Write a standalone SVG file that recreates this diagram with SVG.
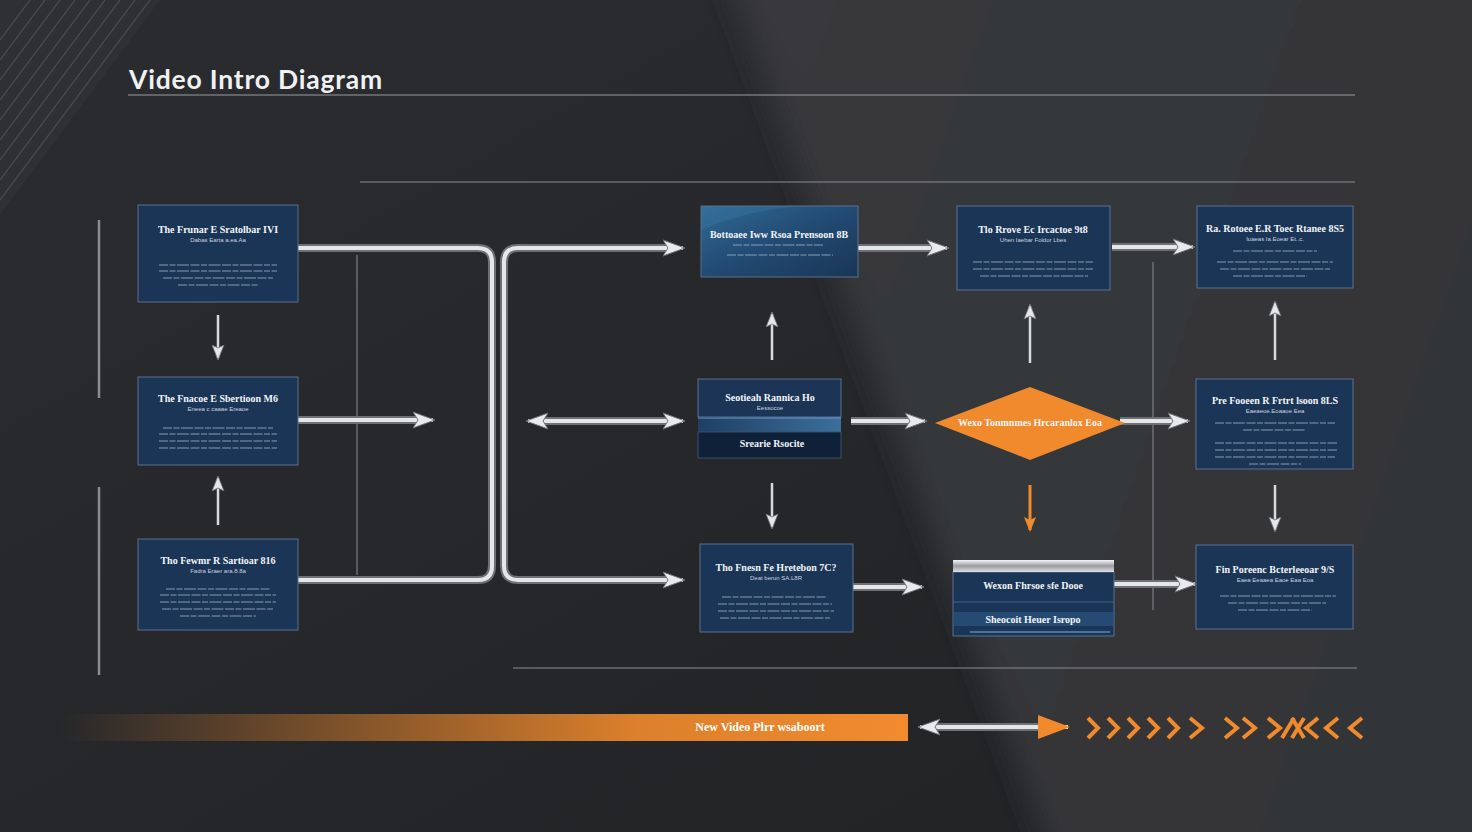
<svg xmlns="http://www.w3.org/2000/svg" width="1472" height="832" viewBox="0 0 1472 832">
<defs>
<style>
.node{fill:#1b3556;stroke:#5a7090;stroke-width:1}
.ttl{font-family:"Liberation Serif","DejaVu Serif",serif;font-weight:bold;font-size:10px;fill:#f2f4f8;text-anchor:middle}
.sub{font-family:"Liberation Sans","DejaVu Sans",sans-serif;font-size:6px;fill:#c9d3e0;text-anchor:middle}
.body{stroke:#9fb0c8;stroke-width:1.3;stroke-dasharray:9 1.5 6 1.5 12 1.5;opacity:.55}
.tube{fill:none;stroke:#6d7074;stroke-width:8;stroke-linecap:butt}
.tubehi{fill:none;stroke:#e4e6e8;stroke-width:4}
.thin{fill:none;stroke:#d8dadc;stroke-width:2.5}
.guide{stroke:#8a8d91;stroke-width:1;fill:none}
.chev{fill:none;stroke:#f08a2c;stroke-width:4;stroke-linejoin:miter}
</style>
<linearGradient id="bg" x1="0" y1="0" x2="1" y2="1">
<stop offset="0" stop-color="#2a2c2f"/><stop offset="1" stop-color="#202224"/>
</linearGradient>
<linearGradient id="bgR" x1="0" y1="0" x2="1" y2="0.4">
<stop offset="0" stop-color="#38393c"/><stop offset="1" stop-color="#333538"/>
</linearGradient>
<filter id="soft" x="-10%" y="-10%" width="120%" height="120%"><feGaussianBlur stdDeviation="14"/></filter>
<linearGradient id="bar" x1="60" y1="0" x2="908" y2="0" gradientUnits="userSpaceOnUse">
<stop offset="0" stop-color="#f08a2c" stop-opacity="0"/><stop offset="0.68" stop-color="#f08a2c" stop-opacity="0.9"/><stop offset="1" stop-color="#f28b2e"/>
</linearGradient>
<linearGradient id="b1g" x1="0" y1="0" x2="1" y2="1">
<stop offset="0" stop-color="#2f6a94"/><stop offset="0.5" stop-color="#224a72"/><stop offset="1" stop-color="#1a3556"/>
</linearGradient>
<linearGradient id="band" x1="0" y1="0" x2="1" y2="0">
<stop offset="0" stop-color="#1f3f64"/><stop offset="1" stop-color="#3a6f9c"/>
</linearGradient>
<linearGradient id="metal" x1="0" y1="0" x2="0" y2="1">
<stop offset="0" stop-color="#f4f5f6"/><stop offset="0.5" stop-color="#9a9da1"/><stop offset="1" stop-color="#dfe1e3"/>
</linearGradient>
<marker id="ah" markerUnits="userSpaceOnUse" markerWidth="26" markerHeight="20" refX="20" refY="10" orient="auto-start-reverse">
<path d="M0,2 L22,10 L0,18 L5,10 Z" fill="#e8eaec" stroke="#6d7074" stroke-width="1"/>
</marker>
<marker id="ahs" markerUnits="userSpaceOnUse" markerWidth="18" markerHeight="16" refX="13" refY="8" orient="auto-start-reverse">
<path d="M0,2 L15,8 L0,14 L3,8 Z" fill="#e4e6e8" stroke="#6d7074" stroke-width="0.8"/>
</marker>
<marker id="aho" markerUnits="userSpaceOnUse" markerWidth="18" markerHeight="16" refX="13" refY="8" orient="auto">
<path d="M0,2 L15,8 L0,14 L3,8 Z" fill="#f08a2c"/>
</marker>
<marker id="ahbig" markerUnits="userSpaceOnUse" markerWidth="34" markerHeight="28" refX="30" refY="14" orient="auto">
<path d="M0,2 L32,14 L0,26 Z" fill="#f08a2c"/>
</marker>
</defs>

<!-- background -->
<rect x="0" y="0" width="1472" height="832" fill="url(#bg)"/>
<polygon points="720,-40 1520,-40 1520,880 1060,880" fill="url(#bgR)" filter="url(#soft)"/>
<polygon points="0,0 160,0 0,215" fill="#303236" opacity="0.8"/>
<g stroke="#5e6268" stroke-width="1.2" opacity="0.6">
<line x1="0" y1="40" x2="30" y2="0"/><line x1="0" y1="60" x2="45" y2="0"/><line x1="0" y1="80" x2="60" y2="0"/>
<line x1="0" y1="100" x2="75" y2="0"/><line x1="0" y1="120" x2="90" y2="0"/><line x1="0" y1="140" x2="105" y2="0"/>
<line x1="0" y1="160" x2="120" y2="0"/><line x1="0" y1="180" x2="135" y2="0"/><line x1="0" y1="200" x2="150" y2="0"/>
</g>

<!-- title -->
<text x="129" y="89" font-family="Lato,'Open Sans',sans-serif" font-size="26.5" font-weight="bold" letter-spacing="0.8" fill="#f0f1f2">Video Intro Diagram</text>
<line x1="128" y1="95" x2="1355" y2="95" stroke="#9a9da1" stroke-width="1"/>
<line x1="360" y1="182" x2="1355" y2="182" stroke="#8a8d91" stroke-width="1"/>
<line x1="513" y1="668" x2="1357" y2="668" stroke="#8a8d91" stroke-width="1"/>
<line x1="99" y1="220" x2="99" y2="398" stroke="#8a8d91" stroke-width="2.5"/>
<line x1="99" y1="487" x2="99" y2="675" stroke="#8a8d91" stroke-width="2.5"/>

<!-- connectors -->
<g id="connectors">
<line class="guide" x1="357" y1="255" x2="357" y2="575"/>
<line class="guide" x1="1153" y1="262" x2="1153" y2="610"/>
<path class="tube" d="M298,248 H478 Q492,248 492,262 V566 Q492,580 478,580 H298"/>
<path class="tubehi" d="M298,248 H478 Q492,248 492,262 V566 Q492,580 478,580 H298"/>
<path class="tube" d="M504,420 V262 Q504,248 518,248 H670"/>
<path class="tubehi" marker-end="url(#ah)" d="M504,420 V262 Q504,248 518,248 H683"/>
<path class="tube" d="M504,410 V566 Q504,580 518,580 H670"/>
<path class="tubehi" marker-end="url(#ah)" d="M504,410 V566 Q504,580 518,580 H683"/>
<path class="tube" d="M298,420 H420"/><path class="tubehi" marker-end="url(#ah)" d="M298,420 H433"/>
<path class="tube" d="M540,421 H670"/><path class="tubehi" marker-start="url(#ah)" marker-end="url(#ah)" d="M528,421 H683"/>
<path class="tube" d="M858,248 H935"/><path class="tubehi" marker-end="url(#ah)" d="M858,248 H947"/>
<path class="tube" d="M1112,247 H1180"/><path class="tubehi" marker-end="url(#ah)" d="M1112,247 H1193"/>
<path class="tube" d="M851,421 H912"/><path class="tubehi" marker-end="url(#ah)" d="M851,421 H925"/>
<path class="tube" d="M1120,421 H1176"/><path class="tubehi" marker-end="url(#ah)" d="M1120,421 H1188"/>
<path class="tube" d="M853,587 H910"/><path class="tubehi" marker-end="url(#ah)" d="M853,587 H922"/>
<path class="tube" d="M1114,584 H1182"/><path class="tubehi" marker-end="url(#ah)" d="M1114,584 H1195"/>
<path class="thin" marker-end="url(#ahs)" d="M218,315 V358"/>
<path class="thin" marker-end="url(#ahs)" d="M218,525 V478"/>
<path class="thin" marker-end="url(#ahs)" d="M772,360 V314"/>
<path class="thin" marker-end="url(#ahs)" d="M772,483 V527"/>
<path class="thin" marker-end="url(#ahs)" d="M1030,363 V306"/>
<path fill="none" stroke="#f08a2c" stroke-width="3" marker-end="url(#aho)" d="M1030,485 V530"/>
<path class="thin" marker-end="url(#ahs)" d="M1275,360 V303"/>
<path class="thin" marker-end="url(#ahs)" d="M1275,485 V530"/>
<path class="tube" d="M930,727 H1040" stroke-width="6"/>
<path class="tubehi" d="M920,727 H1068" stroke-width="3" marker-start="url(#ah)" marker-end="url(#ahbig)"/>
</g>

<!-- nodes -->
<g id="nodeA1">
<rect class="node" x="138" y="205" width="160" height="97"/>
<text class="ttl" x="218" y="233">The Frunar E Sratolbar IVI</text>
<text class="sub" x="218" y="242">Dabas Earta a.ea.Aa</text>
<line class="body" x1="159" y1="265" x2="277" y2="265"/><line class="body" x1="159" y1="271" x2="277" y2="271"/>
<line class="body" x1="163" y1="278" x2="273" y2="278"/><line class="body" x1="178" y1="285" x2="258" y2="285"/>
</g>
<g id="nodeA2">
<rect class="node" x="138" y="377" width="160" height="88"/>
<text class="ttl" x="218" y="402">The Fnacoe E Sbertioon M6</text>
<text class="sub" x="218" y="411">Eneea c caaae  Ereaoe</text>
<line class="body" x1="163" y1="428" x2="273" y2="428"/><line class="body" x1="159" y1="434" x2="277" y2="434"/>
<line class="body" x1="159" y1="441" x2="277" y2="441"/><line class="body" x1="159" y1="448" x2="277" y2="448"/>
</g>
<g id="nodeA3">
<rect class="node" x="138" y="539" width="160" height="91"/>
<text class="ttl" x="218" y="564">Tho Fewmr R Sartioar 816</text>
<text class="sub" x="218" y="573">Fadra Eraer  ara.8.8a</text>
<line class="body" x1="166" y1="589" x2="270" y2="589"/><line class="body" x1="160" y1="595" x2="276" y2="595"/>
<line class="body" x1="160" y1="602" x2="276" y2="602"/><line class="body" x1="162" y1="609" x2="274" y2="609"/>
<line class="body" x1="180" y1="616" x2="256" y2="616"/>
</g>
<g id="nodeB1">
<rect x="701" y="206" width="157" height="71" fill="url(#b1g)" stroke="#5a7090"/>
<path d="M701,230 Q760,205 820,206 L701,206 Z" fill="#3a7aa5" opacity="0.35"/>
<text class="ttl" x="779" y="238" font-size="9.5">Bottoaee Iww Rsoa Prensoon 8B</text>
<line class="body" x1="733" y1="245" x2="823" y2="245"/>
<line class="body" x1="727" y1="255" x2="833" y2="255"/>
</g>
<g id="nodeB2">
<rect x="698" y="379" width="143" height="38" fill="#1c3556" stroke="#5a7090"/>
<rect x="698" y="417" width="143" height="15" fill="url(#band)"/>
<line x1="698" y1="418" x2="841" y2="418" stroke="#6f97bf" stroke-width="1"/>
<rect x="698" y="432" width="143" height="26" fill="#0f2139" stroke="#3a5070"/>
<text class="ttl" x="770" y="401">Seotieah Rannica Ho</text>
<text class="sub" x="770" y="410">Eessocoe</text>
<text class="ttl" x="772" y="447">Srearie  Rsocite</text>
</g>
<g id="nodeB3">
<rect class="node" x="700" y="544" width="153" height="88"/>
<text class="ttl" x="776" y="571">Tho Fnesn Fe Hretebon 7C?</text>
<text class="sub" x="776" y="580">Deat berun  SA.L8R</text>
<line class="body" x1="722" y1="597" x2="826" y2="597"/><line class="body" x1="718" y1="604" x2="832" y2="604"/>
<line class="body" x1="718" y1="611" x2="834" y2="611"/><line class="body" x1="720" y1="618" x2="830" y2="618"/>
</g>
<g id="nodeDiamond">
<polygon points="935,423 1030,387 1125,423 1030,460" fill="#f08a2c"/>
<text class="ttl" x="1030" y="426" font-size="8.5" fill="#fff5e8">Wexo Tonmnmes Hrcaranlox Eoa</text>
</g>
<g id="nodeC1">
<rect class="node" x="957" y="206" width="153" height="84"/>
<text class="ttl" x="1033" y="233">Tlo Rrove Ec Ircactoe 9t8</text>
<text class="sub" x="1033" y="242">Uhen Iaebar  Foldor Lbes</text>
<line class="body" x1="973" y1="262" x2="1093" y2="262"/><line class="body" x1="973" y1="269" x2="1093" y2="269"/>
<line class="body" x1="980" y1="276" x2="1088" y2="276"/>
</g>
<g id="nodeC2">
<rect x="953" y="572" width="161" height="64" fill="#1b3556" stroke="#5a7090"/>
<rect x="953" y="560" width="161" height="12" fill="url(#metal)"/>
<line x1="953" y1="602" x2="1114" y2="602" stroke="#3e6690" stroke-width="1"/>
<rect x="953" y="612" width="161" height="14" fill="#2a5682" opacity="0.7"/>
<line x1="970" y1="632" x2="1110" y2="632" stroke="#5f89b5" stroke-width="1.5"/>
<text class="ttl" x="1033" y="589" font-size="9">Wexon Fhrsoe sfe Dooe</text>
<text class="ttl" x="1033" y="623" font-size="9">Sheocoit Heuer Isropo</text>
</g>
<g id="nodeD1">
<rect class="node" x="1197" y="206" width="156" height="82"/>
<text class="ttl" x="1275" y="232">Ra. Rotoee E.R Toec Rtanee 8S5</text>
<text class="sub" x="1275" y="241">Iuaeas  Ia.Eoear Et..c.</text>
<line class="body" x1="1233" y1="251" x2="1317" y2="251"/>
<line class="body" x1="1217" y1="262" x2="1333" y2="262"/><line class="body" x1="1220" y1="269" x2="1330" y2="269"/>
<line class="body" x1="1233" y1="276" x2="1307" y2="276"/>
</g>
<g id="nodeD2">
<rect class="node" x="1196" y="379" width="157" height="90"/>
<text class="ttl" x="1275" y="404">Pre Fooeen R Frtrt lsoon 8LS</text>
<text class="sub" x="1275" y="413">Eaeaeoe.Eoaaoe  Eea</text>
<line class="body" x1="1215" y1="423" x2="1335" y2="423"/><line class="body" x1="1243" y1="430" x2="1305" y2="430"/>
<line class="body" x1="1215" y1="443" x2="1337" y2="443"/><line class="body" x1="1215" y1="450" x2="1337" y2="450"/>
<line class="body" x1="1215" y1="457" x2="1335" y2="457"/><line class="body" x1="1249" y1="464" x2="1301" y2="464"/>
</g>
<g id="nodeD3">
<rect class="node" x="1196" y="545" width="157" height="84"/>
<text class="ttl" x="1275" y="573">Fin Poreenc Bcterleeoar 9/S</text>
<text class="sub" x="1275" y="582">Eaea Eeaaea Eaoe Eaa Eoa</text>
<line class="body" x1="1220" y1="596" x2="1336" y2="596"/><line class="body" x1="1228" y1="603" x2="1326" y2="603"/>
<line class="body" x1="1238" y1="610" x2="1312" y2="610"/>
</g>

<!-- bottom bar -->
<g id="bottomBar">
<rect x="60" y="714" width="848" height="27" fill="url(#bar)"/>
<text x="760" y="731" font-family="'Liberation Serif',serif" font-weight="bold" font-size="12" fill="#ffffff" text-anchor="middle">New Video Plrr wsaboort</text>
</g>
<g id="chevrons">
<path class="chev" d="M1088,718 L1098,728 L1088,738"/>
<path class="chev" d="M1108,718 L1118,728 L1108,738"/>
<path class="chev" d="M1128,718 L1138,728 L1128,738"/>
<path class="chev" d="M1148,718 L1158,728 L1148,738"/>
<path class="chev" d="M1168,718 L1178,728 L1168,738"/>
<path class="chev" d="M1190,718 L1202,728 L1190,738"/>
<path class="chev" d="M1225,718 L1237,728 L1225,738"/>
<path class="chev" d="M1243,718 L1255,728 L1243,738"/>
<path class="chev" d="M1268,718 L1280,728 L1268,738"/>
<path class="chev" d="M1282,738 L1294,718"/>
<path class="chev" d="M1292,738 L1304,718 M1292,718 L1304,738"/>
<path class="chev" d="M1318,718 L1306,728 L1318,738"/>
<path class="chev" d="M1338,718 L1326,728 L1338,738"/>
<path class="chev" d="M1362,718 L1350,728 L1362,738"/>
</g>
</svg>
